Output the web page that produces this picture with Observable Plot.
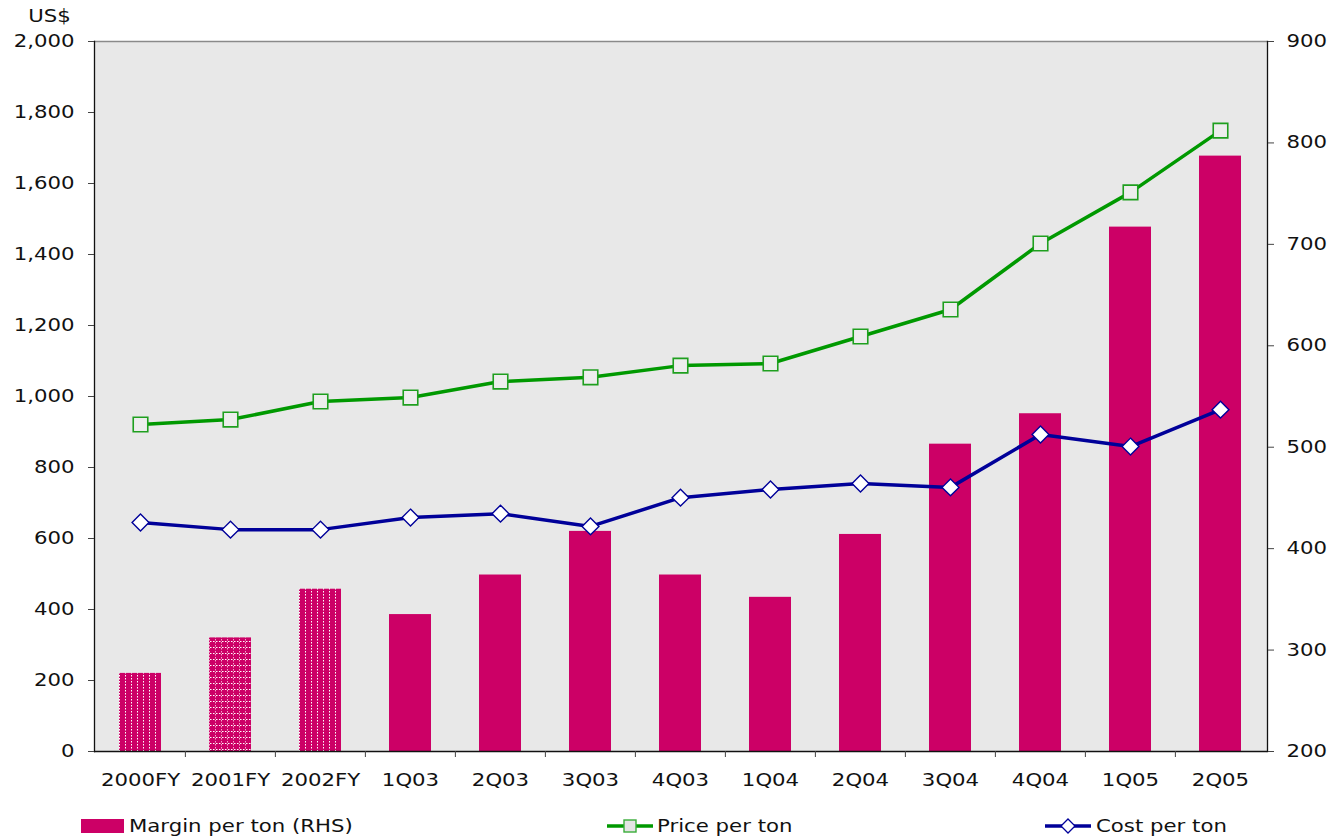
<!DOCTYPE html>
<html>
<head>
<meta charset="utf-8">
<script src="https://cdn.jsdelivr.net/npm/d3@7"></script>
<script src="https://cdn.jsdelivr.net/npm/@observablehq/plot@0.6"></script>
<style>
  html, body { margin: 0; padding: 0; background: white; }
  body { width: 1334px; height: 838px; overflow: hidden; font-family: "DejaVu Sans", Verdana, sans-serif; }
  #legend { position: relative; width: 1334px; height: 38px; font-size: 17px; color: #111; }
  #legend .t { position: absolute; top: 16px; display: inline-block; transform: scaleX(1.25); transform-origin: left center; white-space: nowrap; line-height: 20px; }
  #legend svg { position: absolute; }
</style>
</head>
<body>
<div id="chart"></div>
<div id="legend"></div>
<script>
// ---- data ----
const categories = ["2000FY", "2001FY", "2002FY", "1Q03", "2Q03", "3Q03", "4Q03", "1Q04", "2Q04", "3Q04", "4Q04", "1Q05", "2Q05"];
const pricePerTon = [921, 935, 986, 997, 1042, 1054, 1087, 1093, 1169, 1245, 1431, 1575, 1749];
const costPerTon = [645, 625, 625, 659, 670, 634, 715, 738, 755, 744, 893, 859, 963];
const marginPerTon = [277, 312, 360, 335, 374, 417, 374, 352, 414, 503, 533, 717, 787]; // RHS
const leftTicks = [0, 200, 400, 600, 800, 1000, 1200, 1400, 1600, 1800, 2000];
const rightTicks = [200, 300, 400, 500, 600, 700, 800, 900];
const seriesNames = ["Margin per ton (RHS)", "Price per ton", "Cost per ton"];

// ---- layout ----
const W = 1334, H = 800, mL = 94, mR = 67, mT = 41, mB = 49;
const step = (W - mL - mR) / categories.length;
const MAGENTA = "#CC0066", GREEN = "#009900", BLUE = "#000099";

// Map right-hand axis values onto the left axis domain
const leftDomain = [0, 2000], rightDomain = [200, 900];
const toLeft = v => (v - rightDomain[0]) * (leftDomain[1] - leftDomain[0]) / (rightDomain[1] - rightDomain[0]) + leftDomain[0];
const fromLeft = v => (v - leftDomain[0]) * (rightDomain[1] - rightDomain[0]) / (leftDomain[1] - leftDomain[0]) + rightDomain[0];

const rows = categories.map((c, i) => ({cat: c, price: pricePerTon[i], cost: costPerTon[i], margin: marginPerTon[i], marginL: toLeft(marginPerTon[i])}));

const svg = Plot.plot({
  width: W, height: H,
  marginLeft: mL, marginRight: mR, marginTop: mT, marginBottom: mB,
  style: {fontFamily: "DejaVu Sans, Verdana, sans-serif", fontSize: "17px", background: "white", color: "#111"},
  x: {type: "band", domain: categories, paddingInner: 0.53, paddingOuter: 0.265, label: null},
  y: {domain: leftDomain, label: null},
  marks: [
    Plot.frame({fill: "#e8e8e8", stroke: null}),
    Plot.barY(rows, {filter: (d, i) => i === 0 || i === 2, x: "cat", y: "marginL", fill: "url(#vstripe)"}),
    Plot.barY(rows, {filter: (d, i) => i === 1, x: "cat", y: "marginL", fill: "url(#gridpat)"}),
    Plot.barY(rows, {filter: (d, i) => i > 2, x: "cat", y: "marginL", fill: MAGENTA}),
    Plot.line(rows, {x: "cat", y: "price", stroke: GREEN, strokeWidth: 3.5}),
    Plot.dot(rows, {x: "cat", y: "price", symbol: "square", r: 8.2, fill: "#ededed", stroke: "#1f9f1f", strokeWidth: 1.6}),
    Plot.line(rows, {x: "cat", y: "cost", stroke: BLUE, strokeWidth: 3.5}),
    Plot.dot(rows, {x: "cat", y: "cost", symbol: "diamond2", r: 7.6, fill: "white", stroke: BLUE, strokeWidth: 1.4}),
    Plot.ruleY([leftDomain[1]], {stroke: "#8a8a8a", strokeWidth: 1.5}),
    Plot.frame({anchor: "left", stroke: "#111", strokeWidth: 1.3}),
    Plot.frame({anchor: "right", stroke: "#111", strokeWidth: 1.3}),
    Plot.ruleY([leftDomain[0]], {stroke: "#111", strokeWidth: 1.6}),
    Plot.axisY(leftTicks, {anchor: "left", tickFormat: d3.format(","), tickSize: 6, tickPadding: 14, fontSize: 17, stroke: "#444", label: null}),
    Plot.axisY(rightTicks.map(toLeft), {anchor: "right", tickFormat: v => String(Math.round(fromLeft(v))), tickSize: 6, tickPadding: 13, fontSize: 17, stroke: "#444", label: null}),
    Plot.axisX({tickSize: 0, tickPadding: 22, fontSize: 17, label: null}),
    Plot.axisX(categories.slice(1), {tickSize: 6, tickFormat: () => "", dx: -step / 2, stroke: "#444", label: null}),
    Plot.text(["US$"], {frameAnchor: "top-left", textAnchor: "middle", lineAnchor: "middle", dx: -45, dy: -25, fontSize: 17})
  ]
});

// patterns for the hatched fiscal-year bars
const defs = d3.select(svg).insert("defs", ":first-child");
const p1 = defs.append("pattern").attr("id", "vstripe").attr("patternUnits", "userSpaceOnUse").attr("width", 6).attr("height", 3);
p1.append("rect").attr("width", 6).attr("height", 3).attr("fill", MAGENTA);
p1.append("rect").attr("x", 5).attr("y", 0).attr("width", 1).attr("height", 1.5).attr("fill", "white");
const p2 = defs.append("pattern").attr("id", "gridpat").attr("patternUnits", "userSpaceOnUse").attr("width", 6).attr("height", 6);
p2.append("rect").attr("width", 6).attr("height", 6).attr("fill", MAGENTA);
p2.append("rect").attr("x", 5).attr("y", 0).attr("width", 1).attr("height", 1.5).attr("fill", "#f3a6cc");
p2.append("rect").attr("x", 5).attr("y", 3).attr("width", 1).attr("height", 1.5).attr("fill", "#f3a6cc");
p2.append("rect").attr("x", 0).attr("y", 5).attr("width", 1.5).attr("height", 1).attr("fill", "white");
p2.append("rect").attr("x", 3).attr("y", 5).attr("width", 1.5).attr("height", 1).attr("fill", "white");

// widen glyphs horizontally to match the reference's stretched type
svg.querySelectorAll("text").forEach(t => {
  let tr = t.getAttribute("transform") || "";
  const x = t.getAttribute("x");
  if (x !== null && isFinite(+x)) {
    tr = `translate(${+x},0) ` + tr;
    t.removeAttribute("x");
  }
  t.setAttribute("transform", (tr + " scale(1.25,1)").trim());
});

document.getElementById("chart").appendChild(svg);

// ---- legend ----
const legend = d3.select("#legend");
legend.append("svg").style("left", "81px").style("top", "19px").attr("width", 43).attr("height", 14)
  .append("rect").attr("width", 43).attr("height", 14).attr("fill", MAGENTA);
legend.append("span").attr("class", "t").style("left", "129px").text(seriesNames[0]);
const lp = legend.append("svg").style("left", "606px").style("top", "14px").attr("width", 48).attr("height", 24);
lp.append("line").attr("x1", 1).attr("x2", 47).attr("y1", 12).attr("y2", 12).attr("stroke", GREEN).attr("stroke-width", 3.5);
lp.append("rect").attr("x", 18).attr("y", 6).attr("width", 12).attr("height", 12).attr("fill", "#e4e4e4").attr("stroke", "#3aad3a").attr("stroke-width", 1.4);
legend.append("span").attr("class", "t").style("left", "657px").text(seriesNames[1]);
const lc = legend.append("svg").style("left", "1044px").style("top", "14px").attr("width", 48).attr("height", 24);
lc.append("line").attr("x1", 1).attr("x2", 47).attr("y1", 12).attr("y2", 12).attr("stroke", BLUE).attr("stroke-width", 3.5);
lc.append("path").attr("d", "M24,5L31,12L24,19L17,12Z").attr("fill", "white").attr("stroke", BLUE).attr("stroke-width", 1.3);
legend.append("span").attr("class", "t").style("left", "1096px").text(seriesNames[2]);
</script>
</body>
</html>
